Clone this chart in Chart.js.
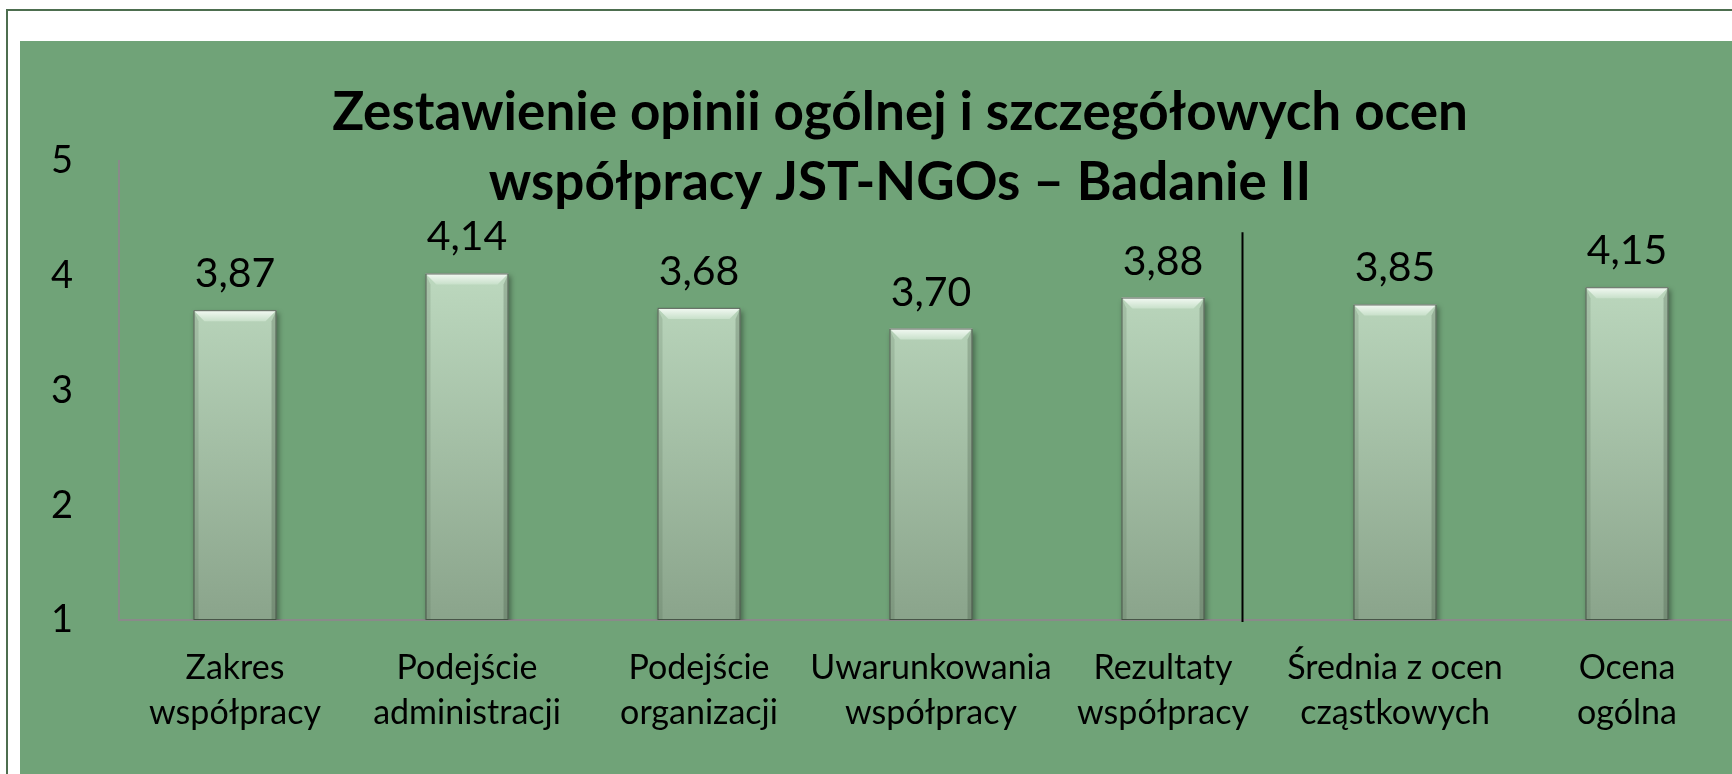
<!DOCTYPE html>
<html lang="pl">
<head>
<meta charset="utf-8">
<title>Zestawienie opinii ogólnej i szczegółowych ocen współpracy JST-NGOs – Badanie II</title>
<script src="https://cdn.jsdelivr.net/npm/chart.js@4.4.1/dist/chart.umd.min.js"></script>
<style>
    html, body { margin: 0; padding: 0; background: #ffffff; overflow: hidden; }
    body { width: 1732px; height: 774px; position: relative; }
    .outer-frame {
        position: absolute; left: 6px; top: 9px; width: 1800px; height: 800px;
        border-left: 2px solid #4d6e4f; border-top: 2px solid #4d6e4f;
    }
    .chart-box {
        position: absolute; left: 20px; top: 41px; width: 1760px; height: 733px;
        background: #70a378;
    }
</style>
</head>
<body>
<div class="outer-frame"></div>
<div class="chart-box"><canvas id="opinionChart" width="1760" height="733"></canvas></div>
<script>
const CATEGORIES = [
    ["Zakres", "współpracy"],
    ["Podejście", "administracji"],
    ["Podejście", "organizacji"],
    ["Uwarunkowania", "współpracy"],
    ["Rezultaty", "współpracy"],
    ["Średnia z ocen", "cząstkowych"],
    ["Ocena", "ogólna"]
];

// 柱子高度：照圖上柱頂位置讀出來的值
const BAR_VALUES = [3.70, 4.02, 3.72, 3.54, 3.81, 3.75, 3.90];

// 柱子上方寫的數字（圖上的文字）
const VALUE_LABELS = ["3,87", "4,14", "3,68", "3,70", "3,88", "3,85", "4,15"];

const Y_TICKS = [1, 2, 3, 4, 5];

const TITLE_LINES = [
    "Zestawienie opinii ogólnej i szczegółowych ocen",
    "współpracy JST-NGOs – Badanie II"
];

// 第 5 和第 6 根柱子之間的黑色分隔線（類別座標 / 數值座標）
const SEPARATOR_X = 4.34;
const SEPARATOR_TOP = 4.38;

const FONT = "Lato, 'Open Sans', sans-serif";

function barGradient(context) {
    const chart = context.chart;
    const area = chart.chartArea;
    if (!area) {
        return "#a6c4a8";
    }
    const yScale = chart.scales.y;
    const gradient = chart.ctx.createLinearGradient(0, yScale.getPixelForValue(4), 0, area.bottom);
    gradient.addColorStop(0, "#bcd8be");
    gradient.addColorStop(1, "#8aa48b");
    return gradient;
}

// 柱子的陰影和上方的斜面效果
const bevelPlugin = {
    id: "bevel",
    beforeDatasetsDraw(chart) {
        const ctx = chart.ctx;
        ctx.save();
        ctx.shadowColor = "rgba(0, 0, 0, 0.35)";
        ctx.shadowBlur = 5;
        ctx.shadowOffsetX = 2;
        ctx.shadowOffsetY = 3;
    },
    afterDatasetsDraw(chart) {
        const ctx = chart.ctx;
        ctx.restore();

        // y 軸從 1 開始，柱子底部要用圖表區的底線，不是 bar.base
        const bottom = chart.chartArea.bottom;

        chart.getDatasetMeta(0).data.forEach((bar) => {
            const left = bar.x - bar.width / 2;
            const right = bar.x + bar.width / 2;
            const top = bar.y;
            const b = 11;

            ctx.save();
            const topGradient = ctx.createLinearGradient(0, top, 0, top + b);
            topGradient.addColorStop(0, "#f4faf4");
            topGradient.addColorStop(1, "#c8e0ca");
            ctx.fillStyle = topGradient;
            ctx.beginPath();
            ctx.moveTo(left, top);
            ctx.lineTo(right, top);
            ctx.lineTo(right - b, top + b);
            ctx.lineTo(left + b, top + b);
            ctx.closePath();
            ctx.fill();

            ctx.fillStyle = "rgba(60, 85, 60, 0.16)";
            ctx.beginPath();
            ctx.moveTo(left, top);
            ctx.lineTo(left + 5, top + b);
            ctx.lineTo(left + 5, bottom);
            ctx.lineTo(left, bottom);
            ctx.closePath();
            ctx.fill();

            ctx.fillStyle = "rgba(40, 60, 40, 0.22)";
            ctx.beginPath();
            ctx.moveTo(right, top);
            ctx.lineTo(right - 5, top + b);
            ctx.lineTo(right - 5, bottom);
            ctx.lineTo(right, bottom);
            ctx.closePath();
            ctx.fill();

            ctx.strokeStyle = "rgba(60, 72, 60, 0.85)";
            ctx.lineWidth = 1;
            ctx.strokeRect(left + 0.5, top + 0.5, bar.width - 1, bottom - top - 1);
            ctx.restore();
        });
    }
};

// 標題、柱上數字、分隔線
const textPlugin = {
    id: "texts",
    afterDraw(chart) {
        const ctx = chart.ctx;
        const xScale = chart.scales.x;
        const yScale = chart.scales.y;

        ctx.save();
        ctx.fillStyle = "#000000";
        ctx.textAlign = "center";
        ctx.textBaseline = "alphabetic";

        ctx.font = "41px " + FONT;
        chart.getDatasetMeta(0).data.forEach((bar, i) => {
            ctx.fillText(VALUE_LABELS[i], bar.x, bar.y - 23);
        });

        ctx.font = "bold 53px " + FONT;
        ctx.fillText(TITLE_LINES[0], chart.width / 2, 89);
        ctx.fillText(TITLE_LINES[1], chart.width / 2, 159);

        const sx = Math.round(xScale.getPixelForValue(SEPARATOR_X)) + 0.5;
        ctx.strokeStyle = "#000000";
        ctx.lineWidth = 2;
        ctx.beginPath();
        ctx.moveTo(sx, yScale.getPixelForValue(SEPARATOR_TOP));
        ctx.lineTo(sx, yScale.getPixelForValue(Y_TICKS[0]) + 2);
        ctx.stroke();
        ctx.restore();
    }
};

new Chart(document.getElementById("opinionChart"), {
    type: "bar",
    data: {
        labels: CATEGORIES,
        datasets: [{
            data: BAR_VALUES,
            backgroundColor: barGradient,
            borderWidth: 0,
            barPercentage: 0.358,
            categoryPercentage: 1
        }]
    },
    options: {
        responsive: false,
        animation: false,
        layout: { padding: { top: 120, right: 37, left: 0, bottom: 0 } },
        plugins: {
            legend: { display: false },
            tooltip: { enabled: false },
            title: { display: false }
        },
        scales: {
            x: {
                grid: { display: false, drawTicks: false },
                border: { display: true, color: "#8a8a8a", width: 2 },
                ticks: {
                    color: "#000000",
                    font: { family: FONT, size: 34, lineHeight: 1.32 },
                    padding: 26,
                    maxRotation: 0,
                    autoSkip: false
                },
                afterFit: (scale) => { scale.height = 154; }
            },
            y: {
                min: Y_TICKS[0],
                max: Y_TICKS[Y_TICKS.length - 1],
                grid: { display: false, drawTicks: false },
                border: { display: true, color: "#8a8a8a", width: 2 },
                ticks: {
                    stepSize: 1,
                    color: "#000000",
                    font: { family: FONT, size: 38 },
                    padding: 46
                },
                afterFit: (scale) => { scale.width = 99; }
            }
        }
    },
    plugins: [bevelPlugin, textPlugin]
});
</script>
</body>
</html>
